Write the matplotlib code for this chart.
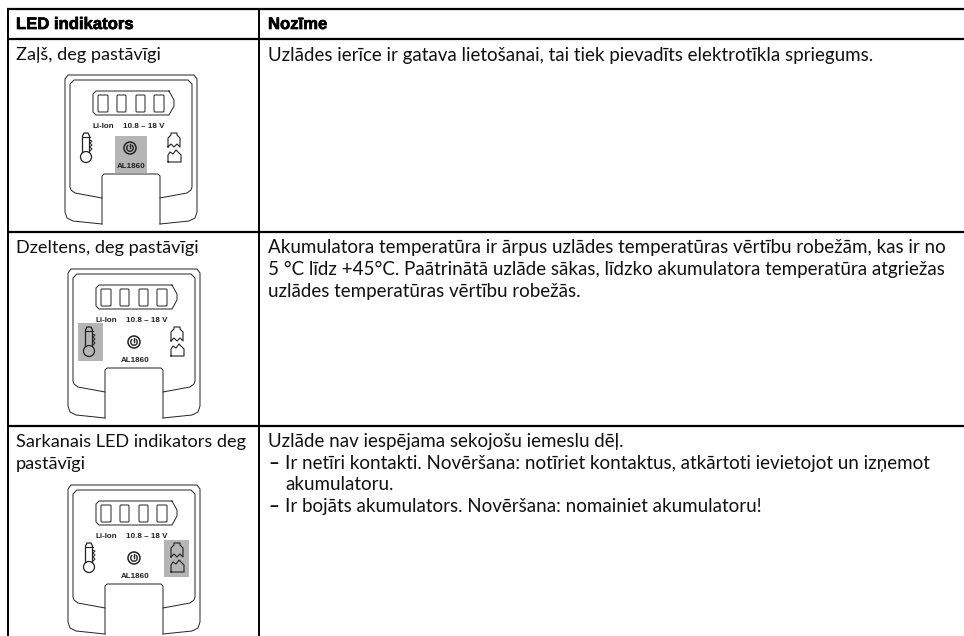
import matplotlib
matplotlib.use('Agg')
import matplotlib.pyplot as plt
import matplotlib.patheffects as pe
from matplotlib.patches import FancyBboxPatch, Rectangle, Circle, Arc
import numpy as np

BODY_FONT = 'Lato'
HEAD_FONT = 'Liberation Sans'

headers = ['LED indikators', 'Nozīme']
left_col = [
    ['Zaļš, deg pastāvīgi'],
    ['Dzeltens, deg pastāvīgi'],
    ['Sarkanais LED indikators deg', 'pastāvīgi'],
]
right_col = [
    ['Uzlādes ierīce ir gatava lietošanai, tai tiek pievadīts elektrotīkla spriegums.'],
    ['Akumulatora temperatūra ir ārpus uzlādes temperatūras vērtību robežām, kas ir no',
     '5 °C līdz +45°C. Paātrinātā uzlāde sākas, līdzko akumulatora temperatūra atgriežas',
     'uzlādes temperatūras vērtību robežās.'],
    ['Uzlāde nav iespējama sekojošu iemeslu dēļ.',
     '– Ir netīri kontakti. Novēršana: notīriet kontaktus, atkārtoti ievietojot un izņemot',
     '  akumulatoru.',
     '– Ir bojāts akumulators. Novēršana: nomainiet akumulatoru!'],
]
row_tops = [39, 232, 426]
icon_origins = [(65, 75), (68, 269), (68, 485)]
highlights = ['power', 'thermo', 'crack']

fig = plt.figure(figsize=(9.64, 6.36), dpi=100)
ax = fig.add_axes([0, 0, 1, 1])
ax.set_xlim(0, 964)
ax.set_ylim(636, 0)
ax.axis('off')

# table rules, the page cuts the table off at the bottom
ax.plot([7, 964], [9, 9], color='k', lw=1.6, solid_capstyle='butt')
for y in row_tops:
    ax.plot([7, 964], [y, y], color='k', lw=1.6, solid_capstyle='butt')
ax.plot([7.5, 7.5], [9, 636], color='k', lw=1.4, solid_capstyle='butt')
ax.plot([259, 259], [9, 636], color='k', lw=1.4, solid_capstyle='butt')

heavy = [pe.withStroke(linewidth=0.5, foreground='k')]
for x, s in zip([16, 268], headers):
    ax.text(x, 24.5, s, family=HEAD_FONT, weight='bold', fontsize=12, va='center', path_effects=heavy)


def draw_device(ox, oy, hl):
    ln = dict(color='#222222', lw=0.7)

    def line(xs, ys, **kw):
        ax.plot(np.array(xs) + ox, np.array(ys) + oy, **{**ln, **kw})

    # grey highlight sits under the line work
    boxes = {'power': (50, 61, 32, 37), 'thermo': (10, 54, 25, 38), 'crack': (96, 55, 25, 37)}
    bx, by, bw, bh = boxes[hl]
    ax.add_patch(Rectangle((ox + bx, oy + by), bw, bh, fc='#b5b5b5', ec='none'))

    # outer shell, broken by the notch
    line([37, 8, 2, 0, 0, 3, 129, 132, 132, 130, 124, 95],
         [149, 146, 143, 137, 4, 0, 0, 4, 137, 143, 146, 149])
    # inner face
    line([37, 10, 6, 5, 5, 9, 123, 127, 127, 126, 122, 95],
         [123, 118, 115, 112, 9, 5, 5, 9, 112, 115, 118, 123])
    # notch
    line([37, 37, 39, 93, 95, 95], [149, 101, 99, 99, 101, 149])

    # battery gauge
    line([104, 31, 28, 28, 31, 104, 109, 109, 104, 104],
         [16, 16, 19, 37, 40, 40, 31, 25, 16, 16])
    for cx, cw in zip([33, 52, 71, 89], [10, 9, 9, 10]):
        ax.add_patch(FancyBboxPatch((ox + cx + 1, oy + 21), cw - 2, 15,
                                    boxstyle='round,pad=1', fc='none', ec='#222222', lw=0.7))

    ax.text(ox + 38.5, oy + 52, 'Li-Ion', family=HEAD_FONT, weight='bold', fontsize=5.8,
            ha='center', va='center', color='#222222')
    ax.text(ox + 79, oy + 52, '10.8 – 18 V', family=HEAD_FONT, weight='bold', fontsize=5.8,
            ha='center', va='center', color='#222222')

    # thermometer
    ax.add_patch(Circle((ox + 21, oy + 82), 5.5, fc='none', ec='#222222', lw=0.9))
    line([17.5, 17.5, 19, 23, 24.5, 24.5], [77.5, 61, 58, 58, 61, 77.5], lw=0.9)
    line([17.5, 24.5], [62, 62], lw=0.8)
    line([24.5, 27, 25, 27, 25, 27, 25], [65, 66, 68, 70, 72, 74, 76], lw=0.7)

    # power button
    pcx, pcy = (65, 73) if hl == 'power' else (66, 73)
    ax.add_patch(Circle((ox + pcx, oy + pcy), 6, fc='none', ec='#222222', lw=1.1))
    ax.add_patch(Arc((ox + pcx, oy + pcy), 6.5, 6.5, theta1=-60, theta2=240, ec='#222222', lw=1.0))
    line([pcx, pcx], [pcy - 4, pcy], lw=1.0)
    ax.text(ox + pcx + 1, oy + 91, 'AL1860', family=HEAD_FONT, weight='bold', fontsize=5.8,
            ha='center', va='center', color='#222222')

    # damaged battery
    line([103, 103, 106, 106, 112, 112, 115, 115, 112, 109, 106, 103],
         [72, 63, 60, 58, 58, 60, 63, 72, 69, 72, 69, 72], lw=0.8)
    line([103, 103, 105, 108, 111, 114, 116, 116, 103],
         [87, 80, 77, 79, 75, 78, 80, 87, 87], lw=0.8)


for i, top in enumerate(row_tops):
    for j, s in enumerate(left_col[i]):
        ax.text(16, top + 16 + j * 21.5, s, family=BODY_FONT, fontsize=13.1, va='center', color='#111111')
    for j, s in enumerate(right_col[i]):
        y = top + 16 + j * 21.5
        if s.startswith('– '):
            ax.text(268, y, '–', family=BODY_FONT, weight='bold', fontsize=13.5, va='center', color='#111111')
            s = s[2:]
            x = 285
        elif s.startswith('  '):
            s = s[2:]
            x = 285
        else:
            x = 268
        ax.text(x, y, s, family=BODY_FONT, fontsize=13.5, va='center', color='#111111')
    draw_device(icon_origins[i][0], icon_origins[i][1], highlights[i])

fig.savefig('out.png', dpi=100)
